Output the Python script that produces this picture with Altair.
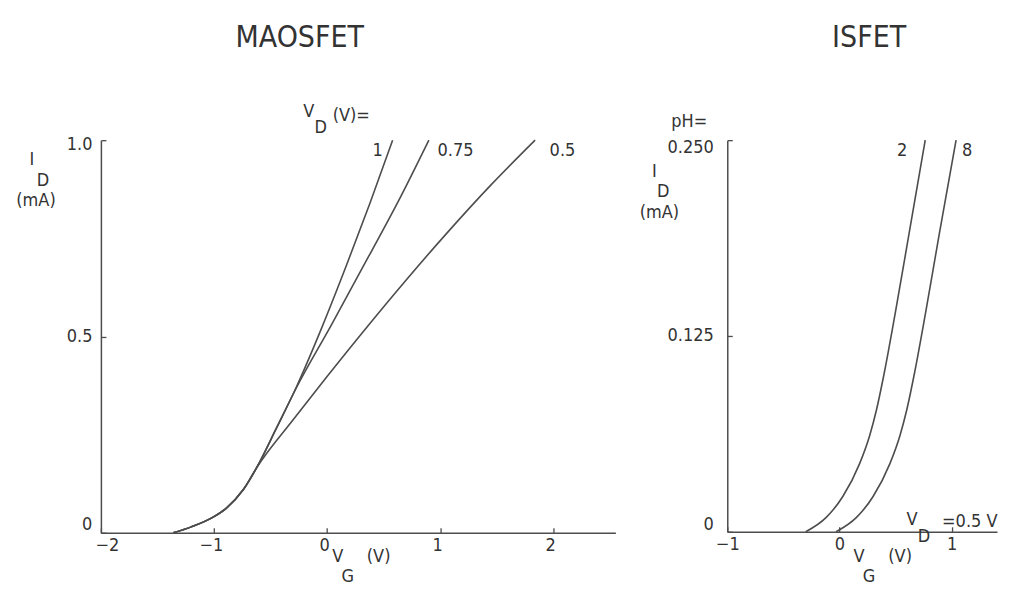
import altair as alt
import pandas as pd

FONT = "DejaVu Sans Condensed, Liberation Sans Narrow, DejaVu Sans"
INK = "#333333"
LINE = "#4d4d4d"

# ---------------- MAOSFET (left) : I_D (mA) vs V_G (V) ----------------
maos_common_vg = [-1.36, -1.20, -1.00, -0.89, -0.74, -0.62]
maos_common_id = [0.000, 0.015, 0.041, 0.063, 0.110, 0.167]
vd1_vg = [-0.45, -0.27, -0.05, 0.17, 0.38, 0.58]
vd1_id = [0.265, 0.372, 0.520, 0.680, 0.840, 1.000]
vd075_vg = [-0.45, -0.27, 0.04, 0.37, 0.64, 0.90]
vd075_id = [0.265, 0.370, 0.530, 0.705, 0.850, 1.000]
vd05_vg = [-0.30, 0.00, 0.35, 0.70, 1.05, 1.45, 1.84]
vd05_id = [0.288, 0.398, 0.523, 0.644, 0.760, 0.886, 1.000]
maos_series = ["1", "0.75", "0.5"]
maos_x_ticks = [-2, -1, 0, 1, 2]
maos_y_ticks = [0, 0.5, 1.0]

# ---------------- ISFET (right) : I_D (mA) vs V_G (V), V_D = 0.5 V ----------------
ph2_vg = [-0.30, -0.12, 0.03, 0.18, 0.27, 0.33, 0.40, 0.50, 0.62, 0.765]
ph2_id = [0.000, 0.009, 0.0225, 0.0435, 0.0615, 0.0777, 0.1015, 0.1405, 0.190, 0.250]
ph8_vg = [-0.03, 0.15, 0.30, 0.45, 0.54, 0.60, 0.67, 0.77, 0.89, 1.04]
ph8_id = [0.000, 0.009, 0.0225, 0.0435, 0.0615, 0.0777, 0.1015, 0.1405, 0.190, 0.250]
isfet_series = ["2", "8"]
isfet_x_ticks = [-1, 0, 1]
isfet_y_ticks = [0, 0.125, 0.25]

# ---------------- build tables ----------------
rows = []
for name, vg, idd in [
    (maos_series[0], maos_common_vg + vd1_vg, maos_common_id + vd1_id),
    (maos_series[1], maos_common_vg + vd075_vg, maos_common_id + vd075_id),
    (maos_series[2], maos_common_vg + vd05_vg, maos_common_id + vd05_id),
]:
    for a, b in zip(vg, idd):
        rows.append({"series": name, "vg": a, "id": b})
maos_df = pd.DataFrame(rows)

rows = []
for name, vg, idd in [(isfet_series[0], ph2_vg, ph2_id), (isfet_series[1], ph8_vg, ph8_id)]:
    for a, b in zip(vg, idd):
        rows.append({"series": name, "vg": a, "id": b})
isfet_df = pd.DataFrame(rows)

one = pd.DataFrame({"k": [0]})


def txt(s, x, y, size=18, align="center"):
    return alt.Chart(one).mark_text(
        text=s, font=FONT, fontSize=size, color=INK, align=align, baseline="middle"
    ).encode(x=alt.value(x), y=alt.value(y))


def axis(values, label_expr, pad, offset=None):
    kw = dict(
        values=values,
        title=None,
        grid=False,
        tickSize={"expr": "-5"},
        labelPadding=pad,
        labelFont=FONT,
        labelFontSize=18,
        labelColor=INK,
        labelExpr=label_expr,
        labelFlush=False,
        labelOverlap=False,
        domainColor=LINE,
        tickColor=LINE,
        domainWidth=1.5,
        tickWidth=1.3,
    )
    if offset is not None:
        kw["labelOffset"] = offset
    return alt.Axis(**kw)


# ---------------- left panel ----------------
W1, H1 = 515, 393
left_lines = alt.Chart(maos_df).mark_line(
    interpolate="monotone", color=LINE, strokeWidth=1.6
).encode(
    x=alt.X("vg:Q", scale=alt.Scale(domain=[-2, 2.55], nice=False, zero=False),
            axis=axis(maos_x_ticks, "format(datum.value, 'd')", 9,
                      {"condition": {"test": "datum.value === -2", "value": 6}, "value": -3})),
    y=alt.Y("id:Q", scale=alt.Scale(domain=[0, 1.0], nice=False),
            axis=axis(maos_y_ticks, "datum.value === 0 ? '0' : format(datum.value, '.1f')", 14,
                      {"condition": [{"test": "datum.value === 0", "value": -8},
                                     {"test": "datum.value === 1", "value": 4}], "value": 0})),
    detail="series:N",
)

left = alt.layer(
    left_lines,
    txt("MAOSFET", 199, -102, 30),
    txt("I", -69, 20),
    txt("D", -58, 41),
    txt("(mA)", -65, 61),
    txt("V", 208, -28),
    txt("D", 220, -12),
    txt("(V)=", 232, -24, align="left"),
    txt(maos_series[0], 277, 11),
    txt(maos_series[1], 355, 11),
    txt(maos_series[2], 462, 11),
    txt("V", 237, 417),
    txt("G", 247, 437),
    txt("(V)", 278, 417),
).properties(width=W1, height=H1)

# ---------------- right panel ----------------
W2, H2 = 270, 392
right_lines = alt.Chart(isfet_df).mark_line(
    interpolate="monotone", color=LINE, strokeWidth=1.6
).encode(
    x=alt.X("vg:Q", scale=alt.Scale(domain=[-1, 1.405], nice=False, zero=False),
            axis=axis(isfet_x_ticks, "format(datum.value, 'd')", 9)),
    y=alt.Y("id:Q", scale=alt.Scale(domain=[0, 0.25], nice=False),
            axis=axis(isfet_y_ticks, "datum.value === 0 ? '0' : format(datum.value, '.3f')", 19,
                      {"condition": [{"test": "datum.value === 0", "value": -7},
                                     {"test": "datum.value === 0.25", "value": 7}], "value": 0})),
    detail="series:N",
)

right = alt.layer(
    right_lines,
    txt("ISFET", 142, -102, 30),
    txt("I", -73, 32),
    txt("D", -64, 52),
    txt("(mA)", -68, 73),
    txt("pH=", -38, -18),
    txt(isfet_series[0], 175, 11),
    txt(isfet_series[1], 240, 11),
    txt("V", 185, 380),
    txt("D", 197, 397),
    txt("=0.5 V", 215, 382, align="left"),
    txt("V", 132, 417),
    txt("G", 142, 437),
    txt("(V)", 173, 417),
).properties(width=W2, height=H2)

chart = alt.hconcat(left, right, spacing=24).properties(
    padding={"left": 8, "top": 15, "right": 5, "bottom": 5}
).configure_view(stroke=None)

chart.save("out.html", embed_options={"renderer": "svg", "actions": False})
